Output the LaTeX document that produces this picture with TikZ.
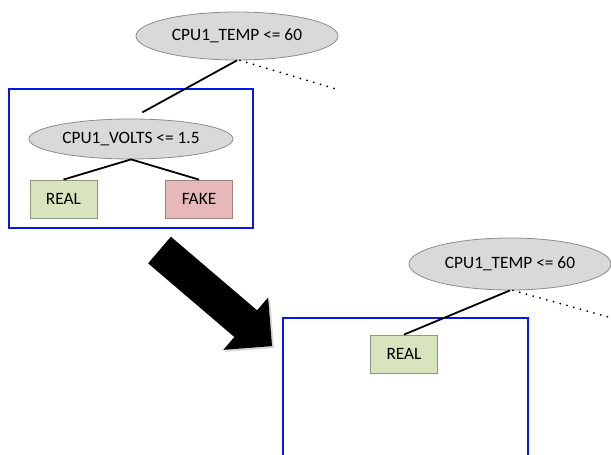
\documentclass[tikz,border=0pt]{standalone}
\usepackage{fontspec}
\setmainfont{Carlito}
\usetikzlibrary{shapes.geometric}
\definecolor{condfill}{HTML}{D9D9D9}
\definecolor{conddraw}{HTML}{8C8C8C}
\definecolor{realfill}{HTML}{D7E4BD}
\definecolor{realdraw}{HTML}{8D9A7C}
\definecolor{fakefill}{HTML}{E6B9B8}
\definecolor{fakedraw}{HTML}{9A8584}
\definecolor{framecol}{HTML}{0A14F0}
\tikzset{
  cond/.style={ellipse, draw=conddraw, fill=condfill, line width=0.8bp,
    minimum width=202bp, minimum height=48bp, inner sep=0pt,
    font=\fontsize{17.4}{20}\selectfont},
  leaf/.style={rectangle, draw=#1draw, fill=#1fill, line width=0.8bp,
    minimum width=67bp, minimum height=38bp, inner sep=0pt,
    font=\fontsize{17.4}{20}\selectfont},
  edge/.style={line width=1.8bp, black},
  pruned/.style={line width=2bp, black, dash pattern=on 0pt off 7bp, line cap=round},
  frame/.style={draw=framecol, line width=2.2bp},
  bigarrow/.pic={
    \fill[pic actions]
      (0,-17.5) -- (113.4,-17.5) -- (113.4,-34.5) -- (148,0) -- (113.4,34.5) -- (113.4,17.5) -- (0,17.5) -- cycle;
  }
}
\begin{document}
\begin{tikzpicture}[x=1bp, y=-1bp]
\useasboundingbox (0,0) rectangle (611,455);
\clip (0,0) rectangle (611,455);

% subtree before pruning
\node[cond] (t1) at (237,36) {CPU1\_TEMP <= 60};
\coordinate (d1) at (336,89);
\draw[frame] (9,89) rectangle (253,228);
\node[cond, minimum width=204bp, minimum height=40bp] (v1) at (131,139) {CPU1\_VOLTS <= 1.5};
\node[leaf=real] (r1) at (63.5,199) {REAL};
\node[leaf=fake] (f1) at (199,199) {FAKE};
\draw[edge, shorten >=13bp] (t1.south) -- (v1.north);
\draw[pruned] (t1.south) ++(3,0) -- (d1);
\draw[edge] (v1.south) -- (r1.north);
\draw[edge] (v1.south) -- (f1.north);

% big arrow with a faint drop shadow
\pic[fill=black!30, opacity=0.5, rotate=-40.5] at (161.5,252) {bigarrow};
\pic[fill=black, rotate=-40.5] at (159.5,250) {bigarrow};

% subtree after pruning
\node[cond, minimum height=52bp] (t2) at (510,264) {CPU1\_TEMP <= 60};
\coordinate (d2) at (612,318);
\draw[frame] (283,470) -- (283,318) -- (528,318) -- (528,470);
\node[leaf=real] (r2) at (404,354) {REAL};
\draw[edge] (t2.south) -- (r2.north);
\draw[pruned] (t2.south) ++(3,0) -- (d2);
\end{tikzpicture}
\end{document}
